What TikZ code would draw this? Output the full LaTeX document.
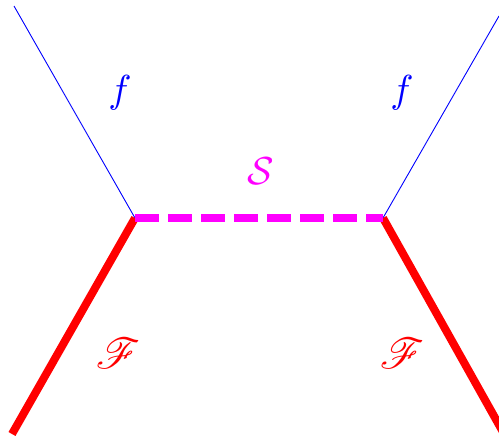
\documentclass[tikz,border=0pt]{standalone}
\usepackage{mathrsfs}
\usepackage{graphicx}
\definecolor{mag}{RGB}{255,0,255}
\definecolor{rd}{RGB}{255,0,0}
\definecolor{bl}{RGB}{0,0,255}
\tikzset{
  fline/.style={bl, line width=0.9pt},
  Fline/.style={rd, line width=8pt},
  sline/.style={mag, line width=8pt, dash pattern=on 24pt off 9pt},
  lab/.style={inner sep=0pt},
}
\newcommand{\biglab}[2]{\scalebox{#1}{#2}}
\begin{document}
\begin{tikzpicture}[x=1pt, y=-1pt]
\useasboundingbox (0,0) rectangle (499,439);
\coordinate (v1) at (135,218);
\coordinate (v2) at (383,218);
\coordinate (a1) at (14,6);
\coordinate (a2) at (499,16);
\coordinate (b1) at (12,434);
\coordinate (b2) at (503,432);
\draw[fline] (a1) -- (v1);
\draw[fline] (a2) -- (v2);
\draw[Fline] (b1) -- (v1);
\draw[Fline] (b2) -- (v2);
\draw[sline] (v1) -- (v2);
\node[lab, text=bl] (f1) at (120,93) {\biglab{3.9}{$f$}};
\node[lab, text=bl] (f2) at (402,93) {\biglab{3.9}{$f$}};
\node[lab, text=mag] (s) at (261,171) {\biglab{3.9}{$\mathcal{S}$}};
\node[lab, text=rd] (F1) at (118,353) {\biglab{4.3}{$\mathscr{F}$}};
\node[lab, text=rd] (F2) at (402,353) {\biglab{4.3}{$\mathscr{F}$}};
\end{tikzpicture}
\end{document}
